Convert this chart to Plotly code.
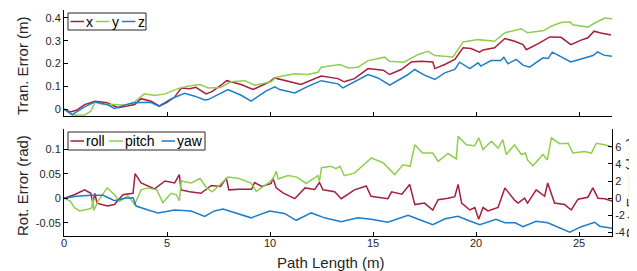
import plotly.graph_objects as go

# ---------------- data ----------------
tran_names = ["x", "y", "z"]
rot_names = ["roll", "pitch", "yaw"]
colors = ["#A51F3D", "#8FCF4F", "#1B7DCB"]

tx_s = [0, 0.3, 0.6, 1.0, 1.5, 2.1, 2.62, 3.0, 3.43, 3.74, 4.23, 4.64, 5.0, 5.37, 5.69, 6.1, 6.4, 6.9, 7.2, 7.62, 7.9,
        8.6, 9.17, 9.98, 10.22, 11.5, 12.48, 13.3, 13.6, 14.1, 14.76, 15.5, 15.8, 16.37, 16.86, 17.33, 17.9, 18.0,
        18.48, 18.97, 19.37, 19.76, 20.17, 20.34, 20.9, 21.4, 21.88, 22.28, 22.44, 23.0, 23.58, 24.13, 24.6, 25.1,
        25.43, 25.73, 26.0, 26.55]
tx_v = [0, -0.012, -0.005, 0.02, 0.035, 0.028, 0.006, 0.012, 0.02, 0.046, 0.035, 0.013, 0.03, 0.053, 0.093, 0.09,
        0.096, 0.067, 0.078, 0.105, 0.125, 0.108, 0.086, 0.12, 0.137, 0.108, 0.145, 0.134, 0.12, 0.134, 0.178, 0.171,
        0.152, 0.174, 0.207, 0.21, 0.207, 0.178, 0.196, 0.218, 0.269, 0.266, 0.25, 0.26, 0.269, 0.31, 0.298, 0.283,
        0.261, 0.286, 0.317, 0.315, 0.283, 0.303, 0.313, 0.342, 0.335, 0.325]

ty_s = [0, 0.4, 1.0, 1.3, 1.5, 1.9, 2.5, 3.0, 3.43, 3.9, 4.4, 4.9, 5.53, 6.0, 6.6, 7.0, 7.6, 8.1, 8.77, 9.26, 10.05,
        10.3, 11.2, 11.84, 12.33, 12.48, 13.4, 13.8, 14.27, 14.76, 15.57, 15.8, 16.5, 17.2, 17.67, 18.0, 18.88, 19.37,
        20.1, 20.9, 21.4, 22.2, 22.5, 23.3, 23.65, 24.13, 24.55, 24.7, 25.43, 25.76, 26.25, 26.6]
ty_v = [0, -0.026, -0.026, -0.009, 0.03, 0.02, 0.02, 0.017, 0.032, 0.067, 0.06, 0.067, 0.09, 0.1, 0.108, 0.093, 0.095,
        0.12, 0.125, 0.105, 0.12, 0.14, 0.155, 0.152, 0.162, 0.184, 0.196, 0.181, 0.184, 0.213, 0.228, 0.21, 0.206,
        0.24, 0.254, 0.235, 0.229, 0.295, 0.305, 0.298, 0.335, 0.353, 0.335, 0.345, 0.364, 0.38, 0.383, 0.37, 0.36,
        0.378, 0.40, 0.397]

tz_s = [0, 0.4, 1.0, 1.5, 2.1, 2.45, 3.0, 3.4, 4.2, 4.6, 5.2, 5.85, 6.35, 6.83, 7.0, 7.96, 8.6, 9.08, 9.8, 10.23,
        10.47, 11.2, 11.84, 12.48, 13.3, 13.54, 14.76, 15.24, 15.81, 16.7, 17.02, 17.5, 18.0, 18.48, 18.97, 19.2,
        19.7, 20.1, 20.23, 20.73, 21.2, 21.35, 21.55, 21.95, 22.28, 22.6, 23.25, 23.5, 23.7, 24.13, 24.6, 25.1,
        25.68, 25.9, 26.2, 26.6]
tz_v = [0, -0.024, 0.01, 0.032, 0.02, 0.003, 0.02, 0.028, 0.03, 0.013, 0.045, 0.07, 0.057, 0.04, 0.042, 0.086, 0.061,
        0.035, 0.079, 0.098, 0.086, 0.071, 0.10, 0.125, 0.111, 0.093, 0.152, 0.137, 0.105, 0.152, 0.174, 0.149, 0.13,
        0.159, 0.174, 0.206, 0.178, 0.203, 0.189, 0.213, 0.213, 0.228, 0.199, 0.218, 0.193, 0.184, 0.225, 0.222,
        0.25, 0.228, 0.207, 0.22, 0.235, 0.251, 0.237, 0.232]

roll_s = [0, 0.5, 1.0, 1.3, 1.4, 1.5, 1.6, 2.1, 2.45, 2.86, 3.35, 3.45, 3.74, 4.08, 4.4, 4.9, 5.37, 5.6, 5.68, 6.1,
          6.65, 7.15, 7.6, 7.88, 8.0, 8.5, 9.1, 9.25, 9.6, 10.06, 10.14, 10.3, 10.63, 11.2, 11.7, 12.17, 12.4, 12.57,
          13.14, 13.46, 14.1, 14.67, 14.9, 15.72, 15.9, 16.4, 16.78, 17.03, 17.5, 17.9, 18.16, 18.64, 18.97, 19.13,
          19.3, 19.7, 19.94, 20.13, 20.34, 20.58, 21.07, 21.4, 21.55, 21.87, 22.04, 22.36, 22.5, 22.92, 23.33, 23.48,
          23.81, 24.3, 24.62, 24.95, 25.43, 25.67, 25.92, 26.25, 26.6]
roll_v = [0, 0.007, 0.017, 0.01, -0.01, 0.01, -0.01, -0.016, -0.013, 0.007, 0.01, 0.05, 0.031, 0.025, 0.019, 0.035,
          0.031, 0.048, 0.017, 0.013, 0.01, 0.026, 0.024, 0.041, 0.017, 0.018, 0.018, 0.032, 0.024, 0.03, 0.041,
          0.021, 0.011, -0.001, 0.021, 0.018, 0.032, 0.017, 0.013, -0.001, 0.017, 0.025, 0.004, -0.001, 0.013, 0.008,
          0.028, -0.013, -0.01, -0.024, -0.003, 0.0, 0.003, 0.028, -0.01, -0.024, -0.019, -0.043, -0.019, -0.026,
          -0.019, 0.021, 0.013, -0.004, -0.01, 0.0, -0.01, 0.017, 0.004, 0.031, -0.01, -0.013, -0.024, -0.002, 0.002,
          0.021, 0.0, -0.001, -0.006]

pitch_s = [0, 0.3, 0.52, 0.76, 1.2, 1.35, 1.4, 1.45, 1.65, 2.1, 2.45, 2.7, 3.1, 3.43, 3.74, 4.08, 4.5, 4.8, 5.2, 5.45,
           5.6, 5.69, 6.18, 6.6, 6.95, 7.2, 7.5, 7.96, 8.5, 9.08, 9.33, 9.82, 10.14, 10.3, 10.4, 10.87, 11.3, 11.76,
           12.32, 12.4, 12.5, 12.97, 13.2, 13.4, 13.6, 14.1, 14.92, 15.5, 16.05, 16.45, 16.8, 17.03, 17.4, 17.9,
           18.16, 18.64, 19.04, 19.13, 19.53, 19.94, 20.13, 20.34, 20.74, 21.07, 21.3, 21.47, 21.87, 22.2, 22.4, 22.5,
           22.76, 23.25, 23.46, 23.66, 24.06, 24.47, 24.7, 25.27, 25.6, 25.84, 26.25, 26.6]
pitch_v = [0, -0.006, -0.02, -0.026, -0.022, -0.02, 0.0, -0.025, -0.006, 0.021, 0.007, -0.006, 0.005, -0.013, 0.017,
           0.021, 0.017, -0.009, 0.01, 0.007, -0.005, 0.035, 0.031, 0.04, 0.02, 0.013, 0.025, 0.043, 0.04, 0.031,
           0.014, 0.028, 0.039, 0.055, 0.039, 0.046, 0.043, 0.03, 0.046, 0.035, 0.062, 0.065, 0.06, 0.065, 0.046,
           0.051, 0.082, 0.072, 0.048, 0.068, 0.065, 0.109, 0.092, 0.092, 0.075, 0.091, 0.08, 0.126, 0.109, 0.107,
           0.123, 0.099, 0.116, 0.102, 0.119, 0.089, 0.109, 0.089, 0.092, 0.078, 0.066, 0.089, 0.078, 0.123, 0.111,
           0.112, 0.092, 0.095, 0.092, 0.112, 0.109, 0.104]

yaw_s = [0, 0.6, 1.3, 1.9, 2.45, 2.95, 3.35, 3.5, 4.08, 4.56, 5.37, 6.17, 6.83, 7.3, 7.72, 8.35, 9.08, 9.98, 10.7,
         11.27, 12.0, 12.65, 13.45, 14.27, 14.9, 15.72, 16.7, 17.2, 17.9, 18.5, 19.13, 19.6, 20.18, 20.97, 21.4, 21.9,
         22.28, 22.92, 23.48, 24.55, 25.11, 25.76, 26.0, 26.6]
yaw_v = [0, 0.004, 0.006, 0.006, -0.005, 0.0, 0.001, -0.016, -0.024, -0.03, -0.024, -0.026, -0.037, -0.026, -0.022,
         -0.03, -0.04, -0.026, -0.031, -0.045, -0.03, -0.04, -0.048, -0.04, -0.043, -0.049, -0.035, -0.043, -0.054,
         -0.042, -0.037, -0.045, -0.054, -0.043, -0.05, -0.05, -0.058, -0.047, -0.05, -0.069, -0.058, -0.049, -0.057,
         -0.061]

x_ticks = [0, 5, 10, 15, 20, 25]
tran_ticks = [0, 0.1, 0.2, 0.3, 0.4]
tran_ticktext = ["0", "0.1", "0.2", "0.3", "0.4"]
rad_ticks = [-0.05, 0, 0.05, 0.1]
rad_ticktext = ["-0.05", "0", "0.05", "0.1"]
deg_ticks = [-4, -2, 0, 2, 4, 6]
deg_ticktext = ["-4", "-2", "0", "2", "4", "6"]

# ---------------- figure ----------------
FONT = "Liberation Sans, Arial, sans-serif"
TXT = "#262626"
fig = go.Figure()

tran = [(tx_s, tx_v), (ty_s, ty_v), (tz_s, tz_v)]
for (xs, vs), c, n in zip(tran, colors, tran_names):
    fig.add_trace(go.Scatter(x=xs, y=vs, mode="lines", name=n, line=dict(color=c, width=1.5),
                             xaxis="x", yaxis="y", showlegend=False))

rot = [(roll_s, roll_v), (pitch_s, pitch_v), (yaw_s, yaw_v)]
for (xs, vs), c, n in zip(rot, colors, rot_names):
    fig.add_trace(go.Scatter(x=xs, y=vs, mode="lines", name=n, line=dict(color=c, width=1.5),
                             xaxis="x2", yaxis="y2", showlegend=False))

# empty trace so the degree axis exists
fig.add_trace(go.Scatter(x=[None], y=[None], xaxis="x2", yaxis="y3", showlegend=False, hoverinfo="skip"))

XR = [0, 26.6]
R2 = [-0.077, 0.141]
DEG = 57.29578

axis_common = dict(showline=True, linecolor="black", linewidth=1, ticks="inside", ticklen=4,
                   tickcolor="black", showgrid=False, zeroline=False, automargin=False,
                   tickfont=dict(family=FONT, size=11, color=TXT))

fig.update_layout(
    width=637, height=271,
    margin=dict(l=56, r=33, t=2, b=43),
    paper_bgcolor="white", plot_bgcolor="white",
    font=dict(family=FONT, color=TXT),
    xaxis=dict(domain=[0, 1], anchor="y", range=XR, tickvals=x_ticks, showticklabels=False, **axis_common),
    yaxis=dict(domain=[0.531, 1], anchor="x", range=[-0.03, 0.435], tickvals=tran_ticks, ticktext=tran_ticktext,
               **axis_common),
    xaxis2=dict(domain=[0, 1], anchor="y2", range=XR, tickvals=x_ticks, ticktext=[str(v) for v in x_ticks],
                ticklabelstandoff=-3, **axis_common),
    yaxis2=dict(domain=[0, 0.4735], anchor="x2", range=R2, tickvals=rad_ticks, ticktext=rad_ticktext,
                **axis_common),
    yaxis3=dict(overlaying="y2", anchor="x2", side="right", range=[R2[0] * DEG, R2[1] * DEG],
                tickvals=deg_ticks, ticktext=deg_ticktext, **axis_common),
)

# ---- pixel helpers for layout placement ----
W0, W = 56, 548
H0, H = 228, 226


def px(xp):
    return (xp - W0) / W


def py(yp):
    return (H0 - yp) / H


title_font = dict(family=FONT, size=15, color=TXT)
fig.add_annotation(xref="paper", yref="paper", x=px(14), y=py(58), text="Tran. Error (m)", textangle=-90,
                   showarrow=False, font=title_font, xanchor="center", yanchor="middle")
fig.add_annotation(xref="paper", yref="paper", x=px(14), y=py(178), text="Rot. Error (rad)", textangle=-90,
                   showarrow=False, font=title_font, xanchor="center", yanchor="middle")
fig.add_annotation(xref="paper", yref="paper", x=px(624), y=py(180), text="Rot. Error (deg)", textangle=-90,
                   showarrow=False, font=dict(family=FONT, size=14.5, color=TXT), borderpad=0,
                   xanchor="center", yanchor="middle")
fig.add_annotation(xref="paper", yref="paper", x=px(323), y=py(254), text="Path Length (m)",
                   showarrow=False, font=title_font, xanchor="center", yanchor="middle")


# ---- compact MATLAB-style legends (box + short line samples + labels) ----
def add_legend(box, line_y, samples, label_x, names):
    x0, x1, y0, y1 = box
    fig.add_shape(type="rect", xref="paper", yref="paper", x0=px(x0), x1=px(x1), y0=py(y1), y1=py(y0),
                  fillcolor="white", line=dict(color="#262626", width=1), layer="above")
    for (a, b), c in zip(samples, colors):
        fig.add_shape(type="line", xref="paper", yref="paper", x0=px(a), x1=px(b), y0=py(line_y), y1=py(line_y),
                      line=dict(color=c, width=1.5), layer="above")
    for lx, n in zip(label_x, names):
        fig.add_annotation(xref="paper", yref="paper", x=px(lx), y=py(line_y), text=n, showarrow=False,
                           xanchor="left", yanchor="middle", borderpad=0,
                           font=dict(family=FONT, size=14, color="black"))


add_legend((60, 138, 5, 22), 13.5, [(62.5, 76), (88, 101.5), (114, 127.5)], [77, 102.5, 128.5], tran_names)
add_legend((60, 197, 124, 142), 133, [(62.5, 76), (101, 115), (153.5, 167)], [77, 116, 167.5], rot_names)

fig.write_html("out.html")
